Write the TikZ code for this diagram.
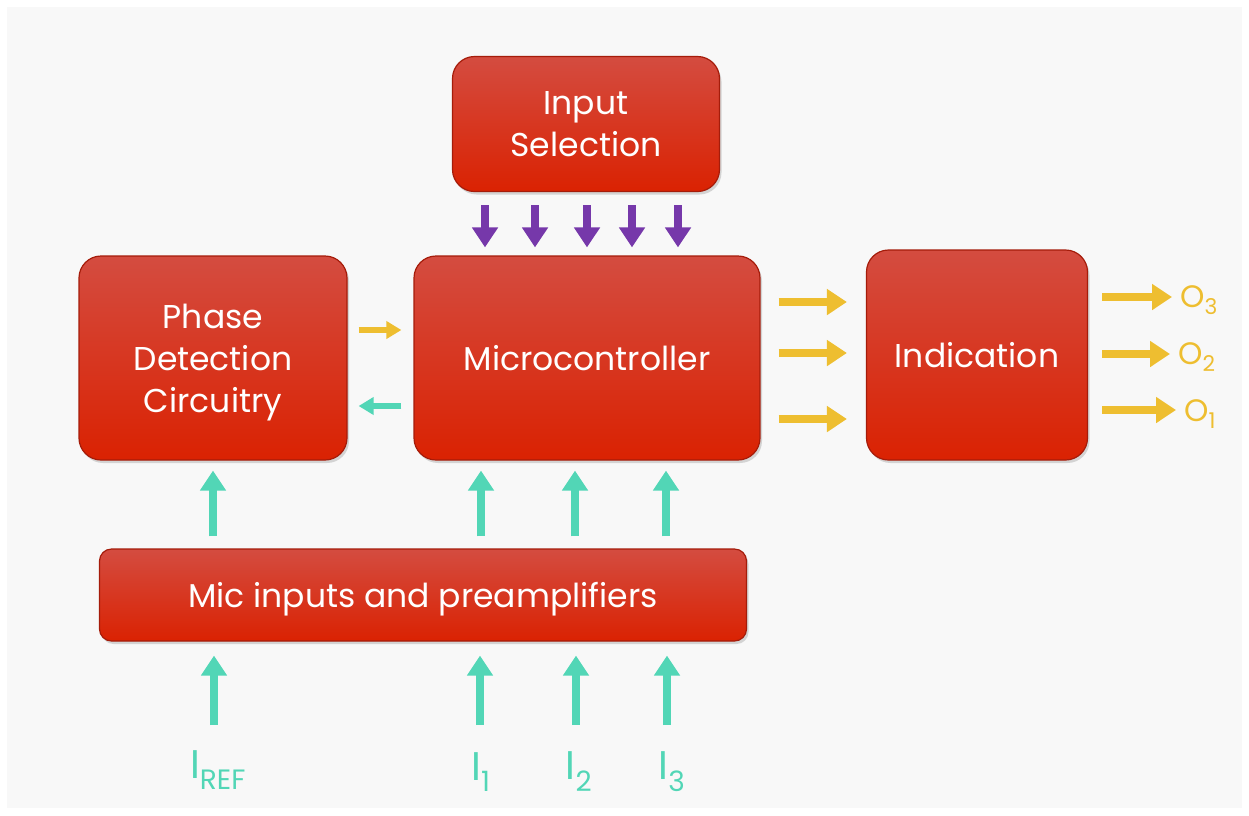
\documentclass[tikz,border=0pt]{standalone}
\usepackage{fontspec}
\setmainfont{Poppins}
\usetikzlibrary{arrows.meta, shadows, positioning}

\definecolor{boxtop}{RGB}{212,76,64}
\definecolor{boxbot}{RGB}{218,34,2}
\definecolor{boxedge}{RGB}{165,28,10}
\definecolor{arrteal}{RGB}{82,214,182}
\definecolor{arryellow}{RGB}{238,190,48}
\definecolor{arrpurple}{RGB}{118,56,170}
\definecolor{paper}{RGB}{248,248,248}

\tikzset{
  block/.style={rounded corners=22pt, draw=boxedge, line width=1.2pt,
    top color=boxtop, bottom color=boxbot, text=white, align=center,
    inner sep=0pt, text depth=0pt, font=\fontsize{33}{42}\selectfont,
    drop shadow={opacity=0.3, shadow xshift=2pt, shadow yshift=-3pt}},
  fat/.style={line width=8pt, -{Triangle[width=25pt,length=20pt]}},
  tealarr/.style={fat, draw=arrteal},
  yelarr/.style={fat, draw=arryellow},
  purparr/.style={fat, draw=arrpurple},
  small/.style={line width=6pt, -{Triangle[width=17pt,length=15pt]}},
  inlabel/.style={font=\fontsize{40}{42}\selectfont, inner sep=2pt, text=arrteal},
  outlabel/.style={font=\fontsize{31}{33}\selectfont, inner sep=2pt, text=arryellow, anchor=west}
}

\begin{document}
\begin{tikzpicture}[x=1pt, y=-1pt]
    \useasboundingbox (0,0) rectangle (1249,815);
    \fill[white] (0,0) rectangle (1249,815);
    \fill[paper] (7,7) rectangle (1242,808);

    % Blocks
    \node[block, minimum width=267pt, minimum height=135pt] (insel) at (586,124) {Input\\Selection};
    \node[block, minimum width=268pt, minimum height=204pt] (phase) at (213,358) {Phase\\Detection\\Circuitry};
    \node[block, minimum width=346pt, minimum height=204pt] (micro) at (587,358) {Microcontroller};
    \node[block, minimum width=221pt, minimum height=210pt] (ind) at (977,355) {Indication};
    \node[block, minimum width=647pt, minimum height=92pt, rounded corners=12pt] (mic) at (423,595) {Mic inputs and preamplifiers};

    % Input selection -> microcontroller
    \foreach \x in {485,535,587,632,678} {
        \coordinate (p) at (\x,0);
        \draw[purparr, shorten <=13pt, shorten >=8pt] (insel.south -| p) -- (micro.north -| p);
    }

    % Phase detection <-> microcontroller
    \coordinate (ya) at (0,330);
    \coordinate (yb) at (0,406);
    \draw[yelarr, small, shorten <=11pt, shorten >=12pt] (phase.east |- ya) -- (micro.west |- ya);
    \draw[tealarr, small, shorten <=12pt, shorten >=11pt] (micro.west |- yb) -- (phase.east |- yb);

    % Microcontroller -> indication
    \foreach \y in {302,353,419} {
        \coordinate (q) at (0,\y);
        \draw[yelarr, shorten <=18pt, shorten >=19pt] (micro.east |- q) -- (ind.west |- q);
    }

    % Outputs
    \node[outlabel] (o3) at (1178,300) {O\textsubscript{3}};
    \node[outlabel] (o2) at (1176,357) {O\textsubscript{2}};
    \node[outlabel] (o1) at (1182,414) {O\textsubscript{1}};
    \foreach \o/\y in {o3/297,o2/354,o1/410} {
        \coordinate (r) at (0,\y);
        \draw[yelarr, shorten <=14pt, shorten >=6pt] (ind.east |- r) -- (\o.west |- r);
    }

    % Mic inputs -> phase detection / microcontroller
    \draw[tealarr, shorten <=12pt, shorten >=10pt] (mic.north -| phase) -- (phase.south);
    \foreach \x in {481,575,666} {
        \coordinate (s) at (\x,0);
        \draw[tealarr, shorten <=12pt, shorten >=10pt] (mic.north -| s) -- (micro.south -| s);
    }

    % Signal inputs
    \node[inlabel] (iref) at (218,770) {I\textsubscript{REF}};
    \node[inlabel] (i1) at (481,772) {I\textsubscript{1}};
    \node[inlabel] (i2) at (579,772) {I\textsubscript{2}};
    \node[inlabel] (i3) at (672,772) {I\textsubscript{3}};
    \foreach \i/\x in {iref/214,i1/480,i2/576,i3/667} {
        \coordinate (t) at (\x,725);
        \draw[tealarr, shorten >=14pt] (t) -- (mic.south -| t);
    }
\end{tikzpicture}
\end{document}
